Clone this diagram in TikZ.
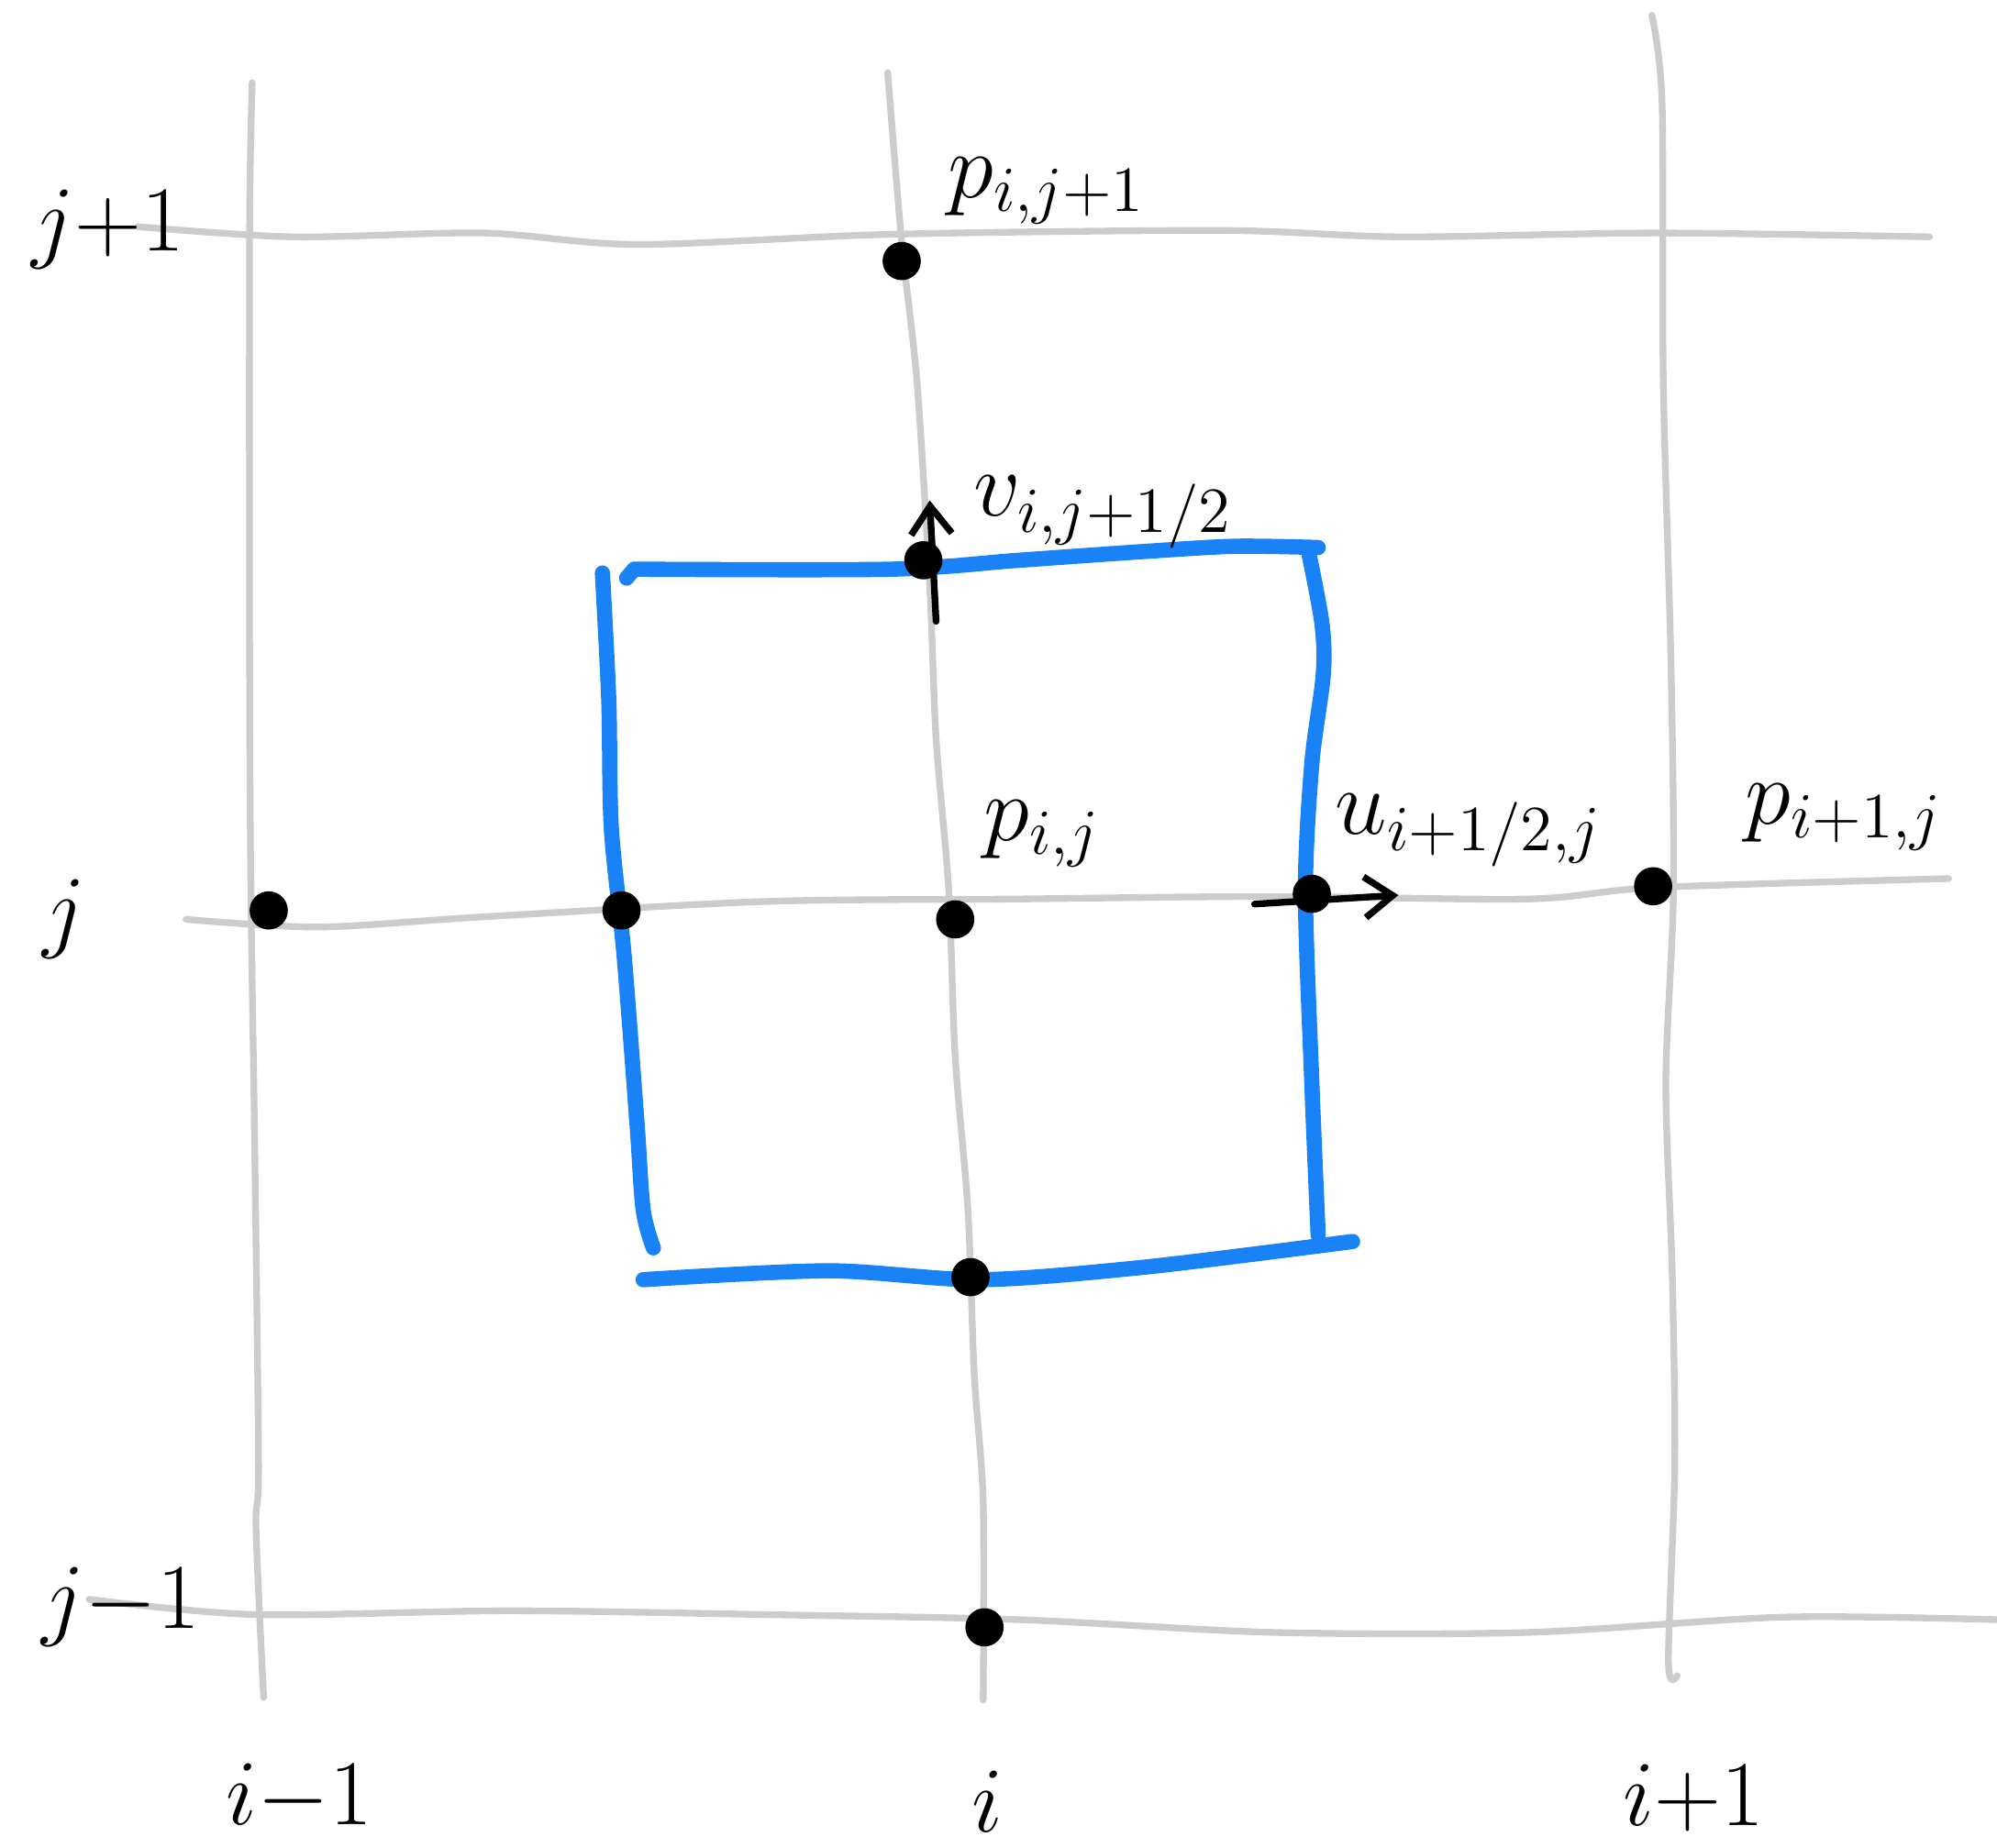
\documentclass[tikz,border=0pt]{standalone}
\usepackage{amsmath,amssymb}
\usetikzlibrary{arrows.meta}
\definecolor{cellblue}{HTML}{1A82F7}

\begin{document}
\begin{tikzpicture}[x=0.01cm, y=-0.01cm, every node/.style={font=\fontsize{20}{24}\selectfont}, >={Straight Barb[length=2.2mm, width=3.2mm]}, gridline/.style={draw=black!20, line width=1.5pt, line cap=round}, cell/.style={draw=cellblue, line width=3.4pt, line cap=round}, pt/.style={circle, fill=black, inner sep=0pt, minimum size=0.3cm}, vec/.style={->, line width=1.5pt, line cap=round}]
	\useasboundingbox (0,0) rectangle (1568,1451);
	% grid lines
	\draw[gridline] plot[smooth] coordinates {(198,65) (196,180) (196,520) (197,700) (200,900) (203,1150) (201,1200) (207,1333)};
	\draw[gridline] plot[smooth] coordinates {(697,57) (708,190) (720,300) (730,460) (735,580) (745,700) (750,830) (760,950) (765,1080) (772,1180) (772,1335)};
	\draw[gridline] plot[smooth] coordinates {(1297,12) (1305,80) (1306,300) (1312,520) (1314,700) (1308,850) (1313,1000) (1315,1150) (1310,1305) (1317,1316)};
	\draw[gridline] plot[smooth] coordinates {(108,178) (230,186) (380,183) (500,192) (700,184) (960,181) (1100,186) (1300,183) (1515,186)};
	\draw[gridline] plot[smooth] coordinates {(146,722) (250,728) (380,720) (600,708) (800,706) (1000,704) (1200,706) (1300,697) (1530,690)};
	\draw[gridline] plot[smooth] coordinates {(70,1256) (200,1268) (400,1265) (600,1268) (800,1272) (1000,1282) (1200,1282) (1400,1270) (1568,1272)};
	% control volume
	\draw[cell] (492,454) -- (498,447) plot[smooth] coordinates {(498,447) (700,447) (800,440) (900,433) (970,429) (1035,430)};
	\draw[cell] plot[smooth] coordinates {(1028,436) (1038,490) (1039,530) (1030,600) (1025,700) (1030,850) (1035,970)};
	\draw[cell] plot[smooth] coordinates {(505,1005) (650,998) (770,1005) (900,995) (1062,975)};
	\draw[cell] plot[smooth] coordinates {(473,450) (478,550) (480,650) (490,750) (500,880) (505,950) (513,980)};
	% points
	\node[pt] (pn) at (708,205) {};
	\node[pt] (vn) at (725,440) {};
	\node[pt] (pw) at (211,715) {};
	\node[pt] (uw) at (488,715) {};
	\node[pt] (pc) at (750,722) {};
	\node[pt] (ue) at (1030,702) {};
	\node[pt] (pe) at (1298,696) {};
	\node[pt] (vs) at (762,1003) {};
	\node[pt] (ps) at (773,1278) {};
	% velocity arrows
	\coordinate (vtail) at (735,488);
	\coordinate (vhead) at (730,393);
	\coordinate (utail) at (985,710);
	\coordinate (uhead) at (1098,703);
	\draw[vec] (vtail) -- (vhead);
	\draw[vec] (utail) -- (uhead);
	% labels
	\node[anchor=west] (lpn) at (732,150) {$p_{i,j+1}$};
	\node[anchor=west] (lvn) at (752,402) {$v_{i,j+1/2}$};
	\node[anchor=west] (lpc) at (760,655) {$p_{i,j}$};
	\node[anchor=west] (lue) at (1036,652) {$u_{i+1/2,j}$};
	\node[anchor=west] (lpe) at (1358,642) {$p_{i+1,j}$};
	\node (ljn) at (85,180) {$j{+}1$};
	\node (ljc) at (50,722) {$j$};
	\node (ljs) at (95,1262) {$j{-}1$};
	\node (lim) at (235,1412) {$i{-}1$};
	\node (lic) at (775,1415) {$i$};
	\node (lip) at (1330,1412) {$i{+}1$};
\end{tikzpicture}
\end{document}
